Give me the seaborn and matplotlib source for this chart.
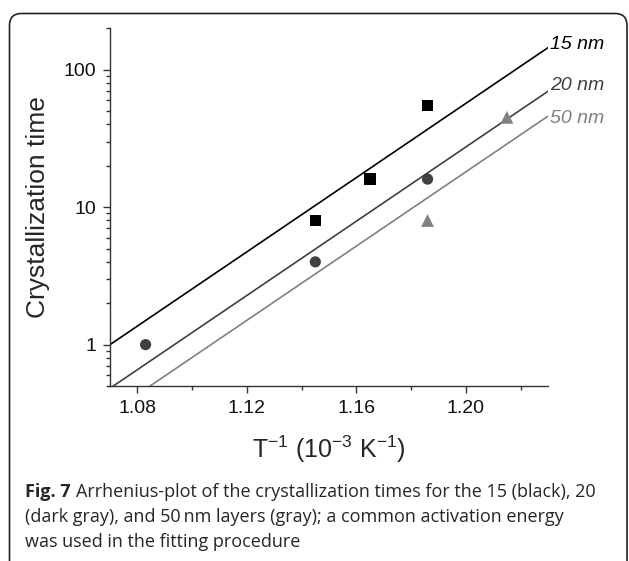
import numpy as np
import pandas as pd
import seaborn as sns
from matplotlib import pyplot as plt
from matplotlib.patches import FancyBboxPatch
from matplotlib.ticker import FixedLocator, FixedFormatter, LogLocator, NullFormatter

# measured crystallization times
layers = ["15 nm", "20 nm", "50 nm"]
x_15 = [1.145, 1.165, 1.186]
t_15 = [8, 16, 55]
x_20 = [1.083, 1.145, 1.186]
t_20 = [1, 4, 16]
x_50 = [1.186, 1.215]
t_50 = [8, 45]

# Arrhenius fit, common slope (decades per 10^-3 K^-1), x where t = 1
slope = 13.5
x0 = {"15 nm": 1.070, "20 nm": 1.0935, "50 nm": 1.1069}
x_fit = [1.07, 1.23]

colors = {"15 nm": "#000000", "20 nm": "#404040", "50 nm": "#808080"}
markers = {"15 nm": "s", "20 nm": "o", "50 nm": "^"}
sizes = {"15 nm": 65, "20 nm": 65, "50 nm": 85}
label_dy = {"15 nm": 2, "20 nm": 4, "50 nm": -1.5}

pts = pd.DataFrame({
    "x": x_15 + x_20 + x_50,
    "t": t_15 + t_20 + t_50,
    "layer": ["15 nm"] * len(x_15) + ["20 nm"] * len(x_20) + ["50 nm"] * len(x_50),
})
fits = pd.DataFrame([
    {"x": x, "t": 10 ** (slope * (x - x0[l])), "layer": l}
    for l in layers for x in x_fit
])

sns.set_style("ticks")
plt.rcParams["font.family"] = ["Liberation Sans", "DejaVu Sans"]

fig = plt.figure(figsize=(6.29, 5.61), dpi=100)
ax = fig.add_axes([0.1749, 0.3119, 0.6963, 0.6377])

sns.lineplot(data=fits, x="x", y="t", hue="layer", palette=colors,
             linewidth=1.2, legend=False, ax=ax)
for l in layers:
    sns.scatterplot(data=pts[pts.layer == l], x="x", y="t", color=colors[l],
                    marker=markers[l], s=sizes[l], edgecolor="none",
                    legend=False, ax=ax, zorder=3)

ax.set_yscale("log")
ax.set_xlim(1.07, 1.23)
ax.set_ylim(0.5, 200)

ax.xaxis.set_major_locator(FixedLocator([1.08, 1.12, 1.16, 1.20]))
ax.xaxis.set_minor_locator(FixedLocator([1.10, 1.14, 1.18, 1.22]))
ax.xaxis.set_major_formatter(FixedFormatter(["1.08", "1.12", "1.16", "1.20"]))
ax.yaxis.set_major_locator(FixedLocator([1, 10, 100]))
ax.yaxis.set_major_formatter(FixedFormatter(["1", "10", "100"]))
ax.yaxis.set_minor_locator(LogLocator(base=10, subs=np.arange(2, 10)))
ax.yaxis.set_minor_formatter(NullFormatter())

ax.tick_params(which="major", length=5, width=1, color="#333333",
               labelsize=14, pad=5, labelcolor="#111111")
ax.tick_params(which="minor", length=3, width=1, color="#333333")
for s in ["left", "bottom"]:
    ax.spines[s].set_color("#333333")
    ax.spines[s].set_linewidth(1.0)
sns.despine(ax=ax)

ax.set_xlabel(r"T$^{\mathregular{-1}}$ (10$^{\mathregular{-3}}$ K$^{\mathregular{-1}}$)",
              fontsize=18, labelpad=12)
ax.set_ylabel("Crystallization time", fontsize=19, labelpad=10)

# line labels at the right end
for l in layers:
    yend = 10 ** (slope * (x_fit[1] - x0[l]))
    ax.annotate(l, (x_fit[1], yend), xytext=(1.5, label_dy[l]),
                textcoords="offset points", color=colors[l], fontsize=14,
                style="italic", ha="left", va="center", annotation_clip=False)

# caption
cap_font = ["Open Sans", "DejaVu Sans"]
cap_size = 13
fig.canvas.draw()
r = fig.canvas.get_renderer()
bold = fig.text(25 / 629, 1 - 492 / 561, "Fig. 7", fontsize=cap_size, fontweight="bold",
                family=cap_font, va="center", ha="left")
bb = bold.get_window_extent(renderer=r)
fig.text((bb.x1 + 5) / 629, 1 - 492 / 561,
         "Arrhenius-plot of the crystallization times for the 15 (black), 20",
         fontsize=cap_size, family=cap_font, va="center", ha="left")
fig.text(25 / 629, 1 - 517 / 561,
         "(dark gray), and 50\u2009nm layers (gray); a common activation energy",
         fontsize=cap_size, family=cap_font, va="center", ha="left")
fig.text(25 / 629, 1 - 542 / 561, "was used in the fitting procedure",
         fontsize=cap_size, family=cap_font, va="center", ha="left")

box = FancyBboxPatch((0.095, -0.2), 6.175, 5.675,
                     boxstyle="round,pad=0,rounding_size=0.12",
                     transform=fig.dpi_scale_trans, fill=False,
                     edgecolor="#222222", linewidth=1.2, clip_on=False)
fig.add_artist(box)

fig.savefig("out.png", dpi=100)
